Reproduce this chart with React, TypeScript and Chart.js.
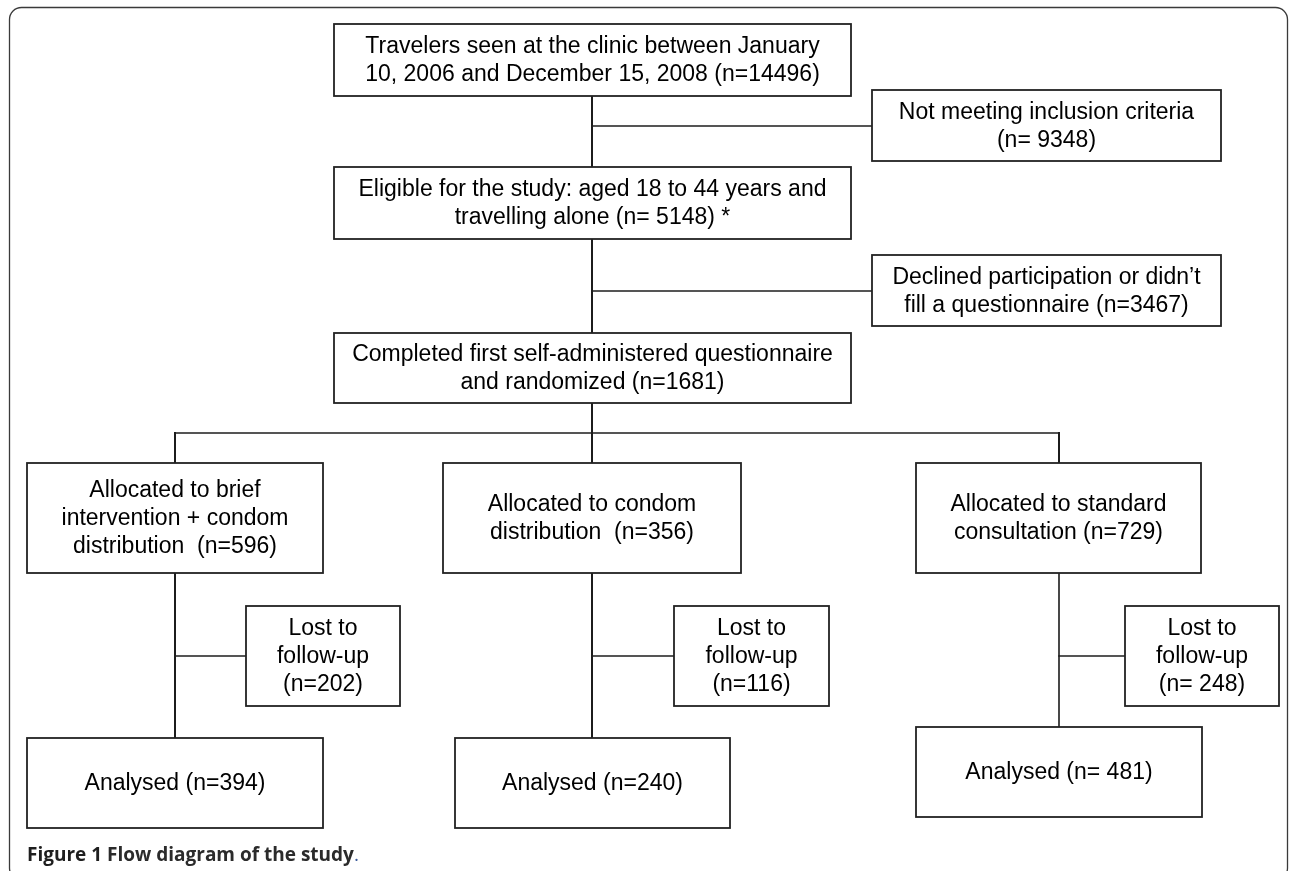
import React, { useEffect, useRef } from "react";
import { Chart, registerables } from "chart.js";

Chart.register(...registerables);

const W = 1290;
const H = 871;

// ---- data: box texts and counts ----
const boxLines: string[][] = [
  ["Travelers seen at the clinic between January", "10, 2006 and December 15, 2008 (n=14496)"],
  ["Not meeting inclusion criteria", "(n= 9348)"],
  ["Eligible for the study: aged 18 to 44 years and", "travelling alone (n= 5148) *"],
  ["Declined participation or didn\u2019t", "fill a questionnaire (n=3467)"],
  ["Completed first self-administered questionnaire", "and randomized (n=1681)"],
  ["Allocated to brief", "intervention + condom", "distribution  (n=596)"],
  ["Allocated to condom", "distribution  (n=356)"],
  ["Allocated to standard", "consultation (n=729)"],
  ["Lost to", "follow-up", "(n=202)"],
  ["Lost to", "follow-up", "(n=116)"],
  ["Lost to", "follow-up", "(n= 248)"],
  ["Analysed (n=394)"],
  ["Analysed (n=240)"],
  ["Analysed (n= 481)"],
];

const captionBold = "Figure 1";
const captionText = "Flow diagram of the study";

// ---- layout (data units of the hidden linear scales) ----
const boxLeft = [334, 872, 334, 872, 334, 27, 443, 916, 246, 674, 1125, 27, 455, 916];
const boxRight = [851, 1221, 851, 1221, 851, 323, 741, 1201, 400, 829, 1279, 323, 730, 1202];
const boxTop = [24, 90, 167, 255, 333, 463, 463, 463, 606, 606, 606, 738, 738, 727];
const boxBottom = [96, 161, 239, 326, 403, 573, 573, 573, 706, 706, 706, 828, 828, 817];

// connectors: [x1, y1, x2, y2, width]
const connectors: number[][] = [
  [592, 96, 592, 167, 2],
  [592, 126, 872, 126, 1.5],
  [592, 239, 592, 333, 2],
  [592, 291, 872, 291, 1.5],
  [592, 403, 592, 463, 2],
  [175, 433, 1059, 433, 1.5],
  [175, 433, 175, 463, 2],
  [1059, 433, 1059, 463, 2],
  [175, 573, 175, 738, 2],
  [175, 656, 246, 656, 1.5],
  [592, 573, 592, 738, 2],
  [592, 656, 674, 656, 1.5],
  [1059, 573, 1059, 727, 1.6],
  [1059, 656, 1125, 656, 1.5],
];

const LINE_COLOR = "#1c1c1c";
const BOX_FONT = '23px "Liberation Sans", Arial, sans-serif';
const LEADING = 28;

const diagramPlugin = {
  id: "diagram",
  beforeDraw(chart: any) {
    const ctx = chart.ctx;
    ctx.save();
    ctx.fillStyle = "#ffffff";
    ctx.fillRect(0, 0, chart.width, chart.height);
    // outer frame
    const xs = chart.scales.x;
    const ys = chart.scales.y;
    const fx0 = xs.getPixelForValue(9.5);
    const fx1 = xs.getPixelForValue(1287.5);
    const fy0 = ys.getPixelForValue(7.5);
    const fy1 = ys.getPixelForValue(880);
    ctx.strokeStyle = "#3a3a3a";
    ctx.lineWidth = 1.3;
    ctx.beginPath();
    ctx.roundRect(fx0, fy0, fx1 - fx0, fy1 - fy0, 12);
    ctx.stroke();
    ctx.restore();
  },
  afterDatasetsDraw(chart: any) {
    const ctx = chart.ctx;
    const xs = chart.scales.x;
    const ys = chart.scales.y;
    ctx.save();
    for (let i = 0; i < boxLines.length; i++) {
      const x0 = xs.getPixelForValue(boxLeft[i]);
      const x1 = xs.getPixelForValue(boxRight[i]);
      const y0 = ys.getPixelForValue(boxTop[i]);
      const y1 = ys.getPixelForValue(boxBottom[i]);
      ctx.fillStyle = "#ffffff";
      ctx.fillRect(x0, y0, x1 - x0, y1 - y0);
      ctx.strokeStyle = "#222222";
      ctx.lineWidth = 1.8;
      ctx.strokeRect(x0, y0, x1 - x0, y1 - y0);
      const lines = boxLines[i];
      const cx = (x0 + x1) / 2;
      const cy = (y0 + y1) / 2 + 1;
      ctx.fillStyle = "#000000";
      ctx.font = BOX_FONT;
      ctx.textAlign = "center";
      ctx.textBaseline = "middle";
      const start = cy - ((lines.length - 1) * LEADING) / 2;
      lines.forEach((t, k) => ctx.fillText(t, cx, start + k * LEADING));
    }
    // caption
    const capX = xs.getPixelForValue(27);
    const capY = ys.getPixelForValue(861);
    ctx.textAlign = "left";
    ctx.textBaseline = "alphabetic";
    ctx.font = 'bold 19px "Open Sans", "Noto Sans", sans-serif';
    ctx.fillStyle = "#1e1e1e";
    ctx.fillText(captionBold, capX, capY);
    let x = capX + ctx.measureText(captionBold + " ").width;
    ctx.fillStyle = "#2b2b2b";
    ctx.fillText(captionText, x, capY);
    x += ctx.measureText(captionText).width;
    ctx.font = '19px "Open Sans", "Noto Sans", sans-serif';
    ctx.fillStyle = "#3b5b9a";
    ctx.fillText(".", x, capY);
    ctx.restore();
  },
};

export default function App() {
  const ref = useRef<HTMLCanvasElement>(null);
  useEffect(() => {
    if (!ref.current) return;
    const datasets = connectors.map((c) => ({
      data: [
        { x: c[0], y: c[1] },
        { x: c[2], y: c[3] },
      ],
      showLine: true,
      borderColor: LINE_COLOR,
      borderWidth: c[4],
      pointRadius: 0,
      pointHoverRadius: 0,
      fill: false,
      tension: 0,
      borderCapStyle: "square" as const,
    }));
    const chart = new Chart(ref.current, {
      type: "scatter",
      data: { datasets },
      options: {
        responsive: false,
        animation: false,
        events: [],
        layout: { padding: 0 },
        scales: {
          x: { type: "linear", min: 0, max: W, display: false },
          y: { type: "linear", min: 0, max: H, reverse: true, display: false },
        },
        plugins: {
          legend: { display: false },
          tooltip: { enabled: false },
        },
      },
      plugins: [diagramPlugin],
    });
    return () => chart.destroy();
  }, []);
  return (
    <div style={{ position: "absolute", left: 0, top: 0, width: W, height: H, background: "#fff", overflow: "hidden" }}>
      <canvas ref={ref} width={W} height={H} style={{ width: W, height: H, display: "block" }} />
    </div>
  );
}
